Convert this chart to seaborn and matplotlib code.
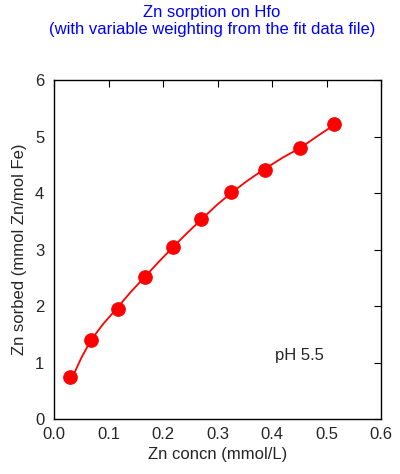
import matplotlib
matplotlib.use("Agg")
import matplotlib.pyplot as plt
import seaborn as sns
import pandas as pd

x_obs = [0.030, 0.068, 0.118, 0.167, 0.218, 0.270, 0.325, 0.387, 0.452, 0.513]
y_obs = [0.74, 1.40, 1.95, 2.52, 3.04, 3.54, 4.02, 4.41, 4.79, 5.22]
x_fit = [0.030, 0.050, 0.068, 0.090, 0.118, 0.140, 0.167, 0.190, 0.218, 0.245, 0.270, 0.300, 0.325, 0.355, 0.387, 0.420, 0.452, 0.485, 0.513]
y_fit = [0.66, 1.08, 1.40, 1.68, 1.99, 2.24, 2.52, 2.76, 3.04, 3.30, 3.53, 3.80, 4.00, 4.22, 4.43, 4.63, 4.80, 5.02, 5.20]

sns.set_style("white")
plt.rcParams['font.family'] = ['Liberation Sans', 'DejaVu Sans']

fig = plt.figure(figsize=(4.0, 4.74), dpi=100)
ax = fig.add_axes([0.135, 0.116, 0.8175, 0.715])
sns.lineplot(data=pd.DataFrame({"x": x_fit, "y": y_fit}), x="x", y="y", ax=ax, color="red", lw=1.3, sort=True)
sns.scatterplot(data=pd.DataFrame({"x": x_obs, "y": y_obs}), x="x", y="y", ax=ax, color="red", s=95, edgecolor="red", zorder=3)
ax.set_xlim(0, 0.6)
ax.set_ylim(0, 6)
ax.set_xticks([0, 0.1, 0.2, 0.3, 0.4, 0.5, 0.6])
ax.set_xticklabels(["0.0", "0.1", "0.2", "0.3", "0.4", "0.5", "0.6"])
ax.set_yticks(range(7))
ax.set_xlabel("Zn concn (mmol/L)", fontsize=12, labelpad=3)
ax.set_ylabel("Zn sorbed (mmol Zn/mol Fe)", fontsize=12, labelpad=6)
ax.tick_params(axis="x", pad=6)
ax.tick_params(axis="y", pad=7)
ax.tick_params(direction="in", top=True, right=True, length=5, labelsize=12, color="black")
for s in ax.spines.values():
    s.set_color("black"); s.set_linewidth(1)
ax.text(0.405, 1.05, "pH 5.5", fontsize=12)
fig.text(0.53, 0.99, "Zn sorption on Hfo\n(with variable weighting from the fit data file)",
         ha="center", va="top", color="blue", fontsize=12, linespacing=1.2)
fig.savefig("out.png", dpi=100)
